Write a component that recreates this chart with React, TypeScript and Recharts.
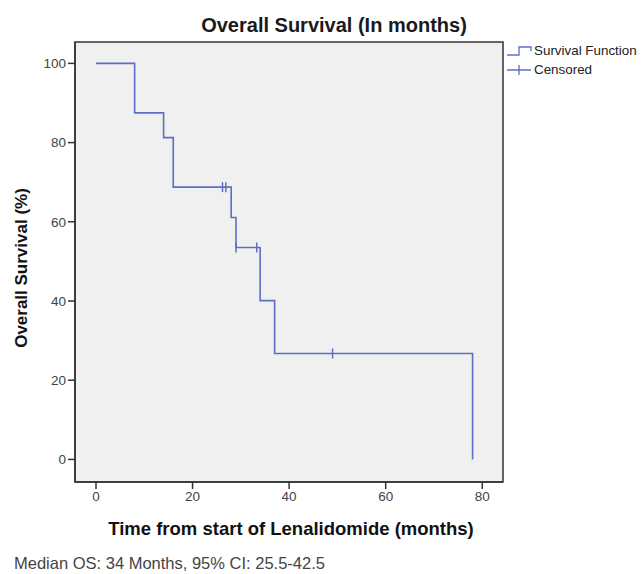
import React from "react";
import {
  ComposedChart,
  Line,
  Scatter,
  XAxis,
  YAxis,
  CartesianGrid,
  ReferenceArea,
} from "recharts";

// step times (months) and survival (%) at each step
const stepMonths = [0, 8, 14, 16, 28, 29, 34, 37, 78];
const stepSurvival = [100, 87.5, 81.25, 68.75, 61.1, 53.5, 40.1, 26.75, 0];

// censored observations
const censorMonths = [26.2, 26.9, 29, 33.3, 49];
const censorSurvival = [68.75, 68.75, 53.5, 53.5, 26.75];

const xTicks = [0, 20, 40, 60, 80];
const yTicks = [0, 20, 40, 60, 80, 100];

const LINE = "#5b6fc4";
const FONT = "'Liberation Sans', Arial, sans-serif";

const stepData = stepMonths.map((t, i) => ({ t, s: stepSurvival[i] }));
const censorData = censorMonths.map((t, i) => ({ t, s: censorSurvival[i] }));

const CensorMark = (props: any) => {
  const { cx, cy } = props;
  if (cx == null || cy == null) return null;
  return (
    <line x1={cx} x2={cx} y1={cy - 5} y2={cy + 5} stroke={LINE} strokeWidth={1.5} />
  );
};

// legend drawn by hand so it doesn't eat into the plot area
const LegendBox = () => (
  <div
    style={{
      position: "absolute",
      left: 506,
      top: 41,
      fontFamily: FONT,
      fontSize: 13.4,
      color: "#222",
      lineHeight: "19px",
    }}
  >
    <div style={{ display: "flex", alignItems: "center" }}>
      <svg width={28} height={12}>
        <path d="M1 10 H13 V2 H25 V6" fill="none" stroke={LINE} strokeWidth={1.3} />
      </svg>
      <span>Survival Function</span>
    </div>
    <div style={{ display: "flex", alignItems: "center" }}>
      <svg width={28} height={12}>
        <path d="M1 6 H25 M13 1 V11" fill="none" stroke={LINE} strokeWidth={1.3} />
      </svg>
      <span>Censored</span>
    </div>
  </div>
);

export default function App() {
  return (
    <div
      style={{
        position: "absolute",
        left: 0,
        top: 0,
        width: 641,
        height: 574,
        background: "#fff",
        fontFamily: FONT,
        overflow: "hidden",
      }}
    >
      <div
        style={{
          position: "absolute",
          top: 14,
          left: 0,
          width: 668,
          textAlign: "center",
          fontWeight: "bold",
          fontSize: 20,
          color: "#1a1a1a",
        }}
      >
        Overall Survival (In months)
      </div>
      <ComposedChart
        width={641}
        height={574}
        margin={{ top: 42, right: 138, bottom: 62, left: 35 }}
      >
        <CartesianGrid fill="#f0f0f0" horizontal={false} vertical={false} />
        <ReferenceArea
          x1={-4.35}
          x2={84.3}
          y1={-5.7}
          y2={105.4}
          fill="none"
          stroke="#333"
          strokeWidth={1.5}
          ifOverflow="visible"
        />
        <XAxis
          type="number"
          dataKey="t"
          domain={[-4.35, 84.3]}
          ticks={xTicks}
          allowDataOverflow
          height={30}
          axisLine={{ stroke: "#333", strokeWidth: 1.5 }}
          tickLine={{ stroke: "#333", strokeWidth: 1.5 }}
          tickSize={7}
          tick={{ fontSize: 13.5, fill: "#444", fontFamily: FONT }}
        />
        <YAxis
          type="number"
          dataKey="s"
          domain={[-5.7, 105.4]}
          ticks={yTicks}
          allowDataOverflow
          width={40}
          axisLine={{ stroke: "#333", strokeWidth: 1.5 }}
          tickLine={{ stroke: "#333", strokeWidth: 1.5 }}
          tickSize={7}
          tick={{ fontSize: 13.5, fill: "#444", fontFamily: FONT }}
        />
        <Line
          data={stepData}
          dataKey="s"
          type="stepAfter"
          stroke={LINE}
          strokeWidth={1.6}
          dot={false}
          activeDot={false}
          isAnimationActive={false}
        />
        <Scatter
          data={censorData}
          dataKey="s"
          shape={<CensorMark />}
          isAnimationActive={false}
        />
      </ComposedChart>
      <LegendBox />
      <div
        style={{
          position: "absolute",
          top: 518,
          left: 0,
          width: 582,
          textAlign: "center",
          fontWeight: "bold",
          fontSize: 18.5,
          color: "#111",
          whiteSpace: "nowrap",
        }}
      >
        Time from start of Lenalidomide (months)
      </div>
      <div
        style={{
          position: "absolute",
          left: 22,
          top: 268,
          transform: "translate(-50%, -50%) rotate(-90deg)",
          whiteSpace: "nowrap",
          fontWeight: "bold",
          fontSize: 17,
          color: "#111",
        }}
      >
        Overall Survival (%)
      </div>
      <div
        style={{
          position: "absolute",
          left: 14,
          top: 554,
          fontSize: 16.5,
          color: "#444",
          whiteSpace: "nowrap",
        }}
      >
        Median OS: 34 Months, 95% CI: 25.5-42.5
      </div>
    </div>
  );
}
